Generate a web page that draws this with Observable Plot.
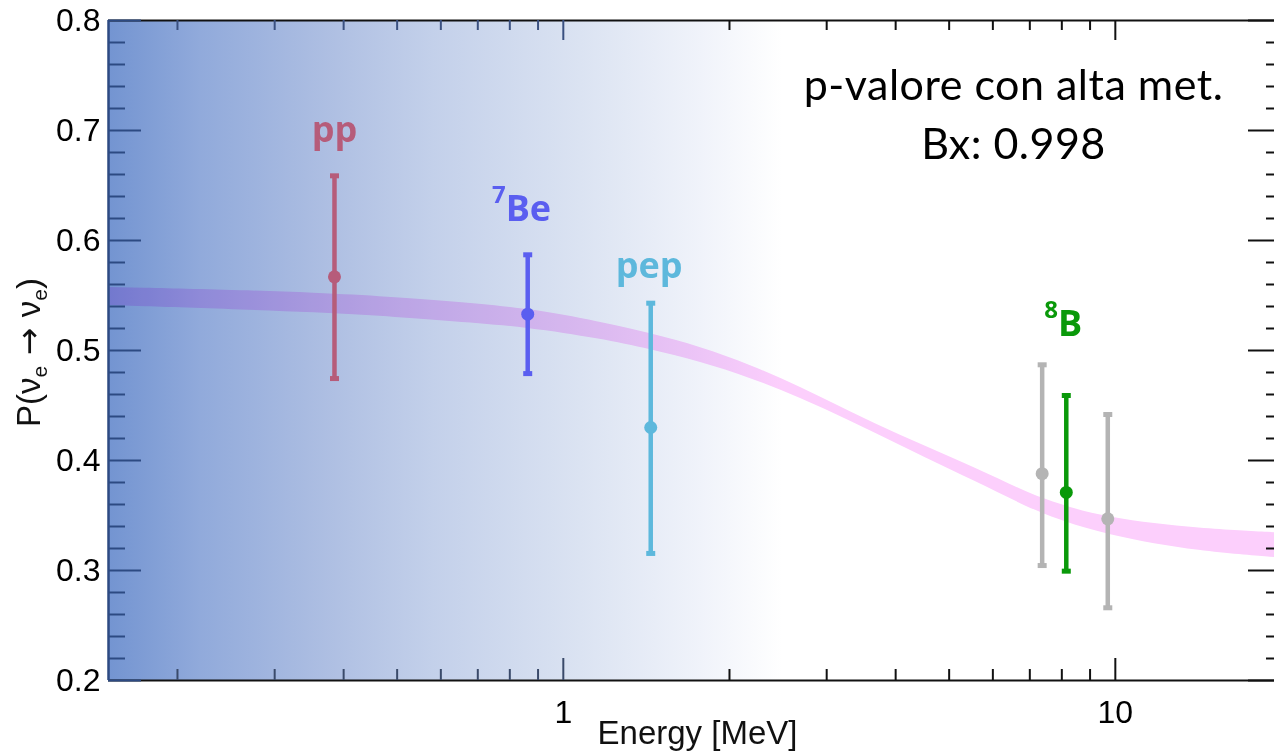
<!DOCTYPE html>
<html><head><meta charset="utf-8">
<script src="https://cdn.jsdelivr.net/npm/d3@7"></script>
<script src="https://cdn.jsdelivr.net/npm/@observablehq/plot@0.6"></script>
<style>html,body{margin:0;padding:0;background:#fff;overflow:hidden} svg{display:block}</style>
</head><body><div id="chart"></div>
<script>
// ---------- data ----------
const xDomain = [0.15, 20];
const yDomain = [0.2, 0.8];
const xMajorTicks = [1, 10];
const xMinorTicks = [0.2, 0.3, 0.4, 0.5, 0.6, 0.7, 0.8, 0.9, 2, 3, 4, 5, 6, 7, 8, 9];
const yMajorTicks = [0.2, 0.3, 0.4, 0.5, 0.6, 0.7, 0.8];
const yMinorTicks = [0.22, 0.24, 0.26, 0.28, 0.32, 0.34, 0.36, 0.38, 0.42, 0.44, 0.46, 0.48,
                     0.52, 0.54, 0.56, 0.58, 0.62, 0.64, 0.66, 0.68, 0.72, 0.74, 0.76, 0.78];
const gradientEnd = 2.5;   // MeV where the shaded region fades to white

const seriesNames  = ["pp", "7Be", "pep", "8B", "8B other"];
const seriesColors = ["#b65c7a", "#5a5ef0", "#5db8dc", "#0a990a", "#b4b4b4"];

const pointSeries = ["pp", "7Be", "pep", "8B other", "8B", "8B other"];
const pointEnergy = [0.385, 0.862, 1.44, 7.37, 8.15, 9.69];
const pointP      = [0.567, 0.533, 0.430, 0.388, 0.371, 0.347];
const pointLow    = [0.4745, 0.479, 0.3155, 0.3045, 0.2994, 0.2661];
const pointHigh   = [0.6588, 0.587, 0.543, 0.487, 0.4591, 0.4418];

const bandEnergy = [0.15, 0.379, 0.625, 0.865, 1.168, 1.439, 1.773, 2.184, 2.69, 3.31, 4.08, 5.03, 6.19, 7.32, 9.68, 14.3, 20];
const bandLow    = [0.5409, 0.5345, 0.5264, 0.5209, 0.5105, 0.5009, 0.4896, 0.4750, 0.4568, 0.4359, 0.4137, 0.3914, 0.3700, 0.3514, 0.3314, 0.3168, 0.3113];
const bandHigh   = [0.5573, 0.5527, 0.5445, 0.5382, 0.5259, 0.5155, 0.5032, 0.4868, 0.4668, 0.4441, 0.4227, 0.4032, 0.3828, 0.3650, 0.3468, 0.3378, 0.3341];

const labelText   = ["pp", "7Be", "pep", "8B"];
const labelEnergy = [0.385, 0.84, 1.43, 8.05];
const labelP      = [0.690, 0.618, 0.5655, 0.5136];

const annotationText   = ["p-valore con alta met.", "Bx: 0.998"];
const annotationEnergy = [6.54, 6.54];
const annotationP      = [0.7273, 0.6745];

const xLabel = "Energy [MeV]";
const yLabel = "P(νe → νe)";

// ---------- tables ----------
const points = pointEnergy.map((e, i) => ({energy: e, p: pointP[i], low: pointLow[i], high: pointHigh[i], series: pointSeries[i]}));
const band = bandEnergy.map((e, i) => ({energy: e, low: bandLow[i], high: bandHigh[i]}));
const labels = labelText.map((t, i) => ({text: t, energy: labelEnergy[i], p: labelP[i], series: t}));
const annotations = annotationText.map((t, i) => ({text: t, energy: annotationEnergy[i], p: annotationP[i]}));

// ---------- layout ----------
const W = 1274, H = 753;
const mL = 108, mT = 20, mB = 73, mR = 0;
const frameW = W - mL - mR, frameH = H - mT - mB;
const capSymbol = {draw(ctx) { ctx.rect(-4.5, -2.5, 9, 5); }};
const navy = "#2d4a82";
const axisFont = "'Liberation Sans', Arial, sans-serif";

const svg = Plot.plot({
  width: W, height: H,
  marginLeft: mL, marginTop: mT, marginBottom: mB, marginRight: mR,
  x: {type: "log", domain: xDomain, range: [mL, 1281]},
  y: {domain: yDomain, range: [H - mB, mT]},
  color: {domain: seriesNames, range: seriesColors},
  style: {background: "white", fontFamily: axisFont, overflow: "hidden"},
  marks: [
    Plot.rect([{x1: xDomain[0], x2: gradientEnd}], {x1: "x1", x2: "x2", y1: yDomain[0], y2: yDomain[1], fill: "url(#bgGrad)"}),
    Plot.areaY(band, {x: "energy", y1: "low", y2: "high", fill: "#fccffc", curve: "basis", mixBlendMode: "multiply"}),
    // frame
    Plot.ruleY([yDomain[0], yDomain[1]], {y: d => d, stroke: "#111", strokeWidth: 2}),
    Plot.ruleX([xDomain[0]], {x: d => d, stroke: navy, strokeWidth: 2.5}),
    // x ticks (bottom and top, inward)
    Plot.ruleX(xMajorTicks, {x: d => d, insetTop: frameH - 22, stroke: d => d < 1.5 ? "#3a4a6a" : "#111", strokeWidth: 2}),
    Plot.ruleX(xMinorTicks, {x: d => d, insetTop: frameH - 11, stroke: d => d < 1.5 ? "#3a4a6a" : "#111", strokeWidth: 2}),
    Plot.ruleX(xMajorTicks, {x: d => d, insetBottom: frameH - 20, stroke: d => d < 1.5 ? "#3a5080" : "#111", strokeWidth: 2}),
    Plot.ruleX(xMinorTicks, {x: d => d, insetBottom: frameH - 10, stroke: d => d < 1.5 ? "#3a5080" : "#111", strokeWidth: 2}),
    // y ticks (left and right, inward)
    Plot.ruleY(yMajorTicks, {y: d => d, insetRight: frameW - 33, stroke: navy, strokeWidth: 2}),
    Plot.ruleY(yMinorTicks, {y: d => d, insetRight: frameW - 17, stroke: navy, strokeWidth: 2}),
    Plot.ruleY(yMajorTicks, {y: d => d, insetLeft: 1248 - mL, stroke: "#111", strokeWidth: 2}),
    Plot.ruleY(yMinorTicks, {y: d => d, insetLeft: 1266 - mL, stroke: "#111", strokeWidth: 2}),
    // axes labels
    Plot.axisX(xMajorTicks, {tickSize: 0, tickPadding: 20, fontSize: 32, label: null, tickFormat: d => String(d), fontFamily: axisFont}),
    Plot.axisY(yMajorTicks, {tickSize: 0, tickPadding: 8, fontSize: 32, label: null, tickFormat: d => d.toFixed(1), fontFamily: axisFont}),
    Plot.text([xLabel], {text: d => d, frameAnchor: "bottom", dx: 6, dy: 63, lineAnchor: "bottom", fontSize: 33, fontFamily: axisFont, fill: "#111"}),
    Plot.text([yLabel], {text: d => d, frameAnchor: "left", textAnchor: "middle", rotate: -90, dx: -79, dy: 2, fontSize: 33, fontFamily: axisFont, fill: "#111"}),
    // error bars
    Plot.ruleX(points, {x: "energy", y1: "low", y2: "high", stroke: "series", strokeWidth: 4.5}),
    Plot.dot(points, {x: "energy", y: "high", symbol: capSymbol, fill: "series", r: 4}),
    Plot.dot(points, {x: "energy", y: "low", symbol: capSymbol, fill: "series", r: 4}),
    Plot.dot(points, {x: "energy", y: "p", r: 6.5, fill: "series"}),
    // series labels
    Plot.text(labels, {x: "energy", y: "p", text: "text", fill: "series", fontSize: 36, fontWeight: "bold", fontFamily: "'Open Sans', sans-serif", lineAnchor: "bottom"}),
    // annotation
    Plot.text(annotations, {x: "energy", y: "p", text: "text", fontSize: 43, fontFamily: "Lato, sans-serif", lineAnchor: "bottom", fill: "#000"})
  ]
});

// gradient definition
const defs = d3.select(svg).insert("defs", ":first-child");
const grad = defs.append("linearGradient").attr("id", "bgGrad").attr("x1", 0).attr("x2", 1).attr("y1", 0).attr("y2", 0);
[[0, "#7394d1"], [0.137, "#91aadb"], [0.32, "#adbee2"], [0.48, "#c3d0ea"], [0.70, "#dbe3f2"], [0.88, "#f0f3fa"], [1, "#ffffff"]]
  .forEach(([o, c]) => grad.append("stop").attr("offset", o).attr("stop-color", c));

// superscripts, subscripts, spacing
d3.select(svg).selectAll("text").each(function() {
  const t = this.textContent;
  const sel = d3.select(this);
  if (t === "7Be" || t === "8B") {
    sel.text(null);
    sel.append("tspan").attr("font-size", 24).attr("dy", -18).text(t[0]);
    sel.append("tspan").attr("dy", 18).text(t.slice(1));
  } else if (t === yLabel) {
    sel.text(null);
    sel.append("tspan").text("P(ν");
    sel.append("tspan").attr("font-size", 21).attr("dy", 7).text("e");
    sel.append("tspan").attr("dy", -7).attr("font-family", "'DejaVu Sans'").attr("font-size", 33).text(" → ");
    sel.append("tspan").text("ν");
    sel.append("tspan").attr("font-size", 21).attr("dy", 7).text("e");
    sel.append("tspan").attr("dy", -7).text(")");
  } else if (annotationText.includes(t)) {
    sel.attr("letter-spacing", 0.5);
  }
});

document.getElementById("chart").appendChild(svg);
</script>
</body></html>
